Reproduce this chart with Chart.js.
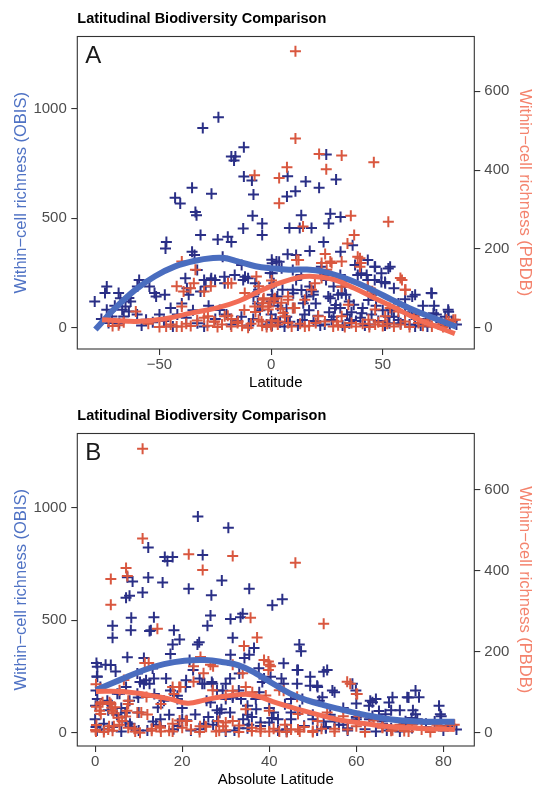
<!DOCTYPE html>
<html>
<head>
<meta charset="utf-8">
<script src="https://cdn.jsdelivr.net/npm/chart.js@4.4.0/dist/chart.umd.min.js"></script>
<style>
  html, body { margin: 0; padding: 0; background: #fff; overflow: hidden; }
  .panel { position: relative; width: 535px; height: 397px; }
</style>
</head>
<body>
<div class="panel"><canvas id="panel-a" width="535" height="397"></canvas></div>
<div class="panel"><canvas id="panel-b" width="535" height="397"></canvas></div>
<script>
const FONT = '"Liberation Sans", Arial, Helvetica, sans-serif';
const TITLE = 'Latitudinal Biodiversity Comparison';

// OBIS grid cells: [latitude, within-cell richness]
const obisCells = [
    [-23.6, 962], [-30.6, 912], [-12.2, 824], [-17.8, 782], [-16.0, 782], [-16.6, 764], [24.7, 791],
    [-12.2, 691], [-8.6, 673], [7.4, 692], [15.5, 668], [29.1, 677], [-35.4, 640], [-26.7, 612],
    [-7.9, 609], [10.9, 624], [21.5, 640], [7.1, 600], [-43.0, 594], [-40.7, 567], [-33.9, 529],
    [-33.4, 514], [-8.3, 511], [-4.0, 476], [-4.0, 423], [-12.5, 453], [13.5, 514], [8.2, 456],
    [12.8, 456], [18.1, 456], [26.5, 521], [31.1, 506], [25.8, 476], [-31.6, 423], [-23.9, 403],
    [-19.4, 415], [-17.8, 392], [-46.9, 392], [-47.3, 362], [-35.4, 347], [-34.3, 332], [-21.7, 324],
    [23.5, 392], [31.1, 347], [36.5, 377], [17.3, 350], [11.2, 332], [7.4, 336], [3.6, 301], [0.5, 294],
    [43.3, 309], [46.4, 279], [52.5, 271], [49.4, 249], [40.3, 249], [38.8, 241], [43.3, 218], [46.4, 218],
    [63.2, 142], [71.7, 158], [49.4, 209], [51.0, 209], [79.3, 82], [83.0, 14], [-79.0, 120], [-73.6, 188],
    [-74.4, 158], [-68.3, 158], [-67.5, 135], [-63.7, 136], [-62.9, 120], [-65.2, 97], [-59.1, 218],
    [-59.9, 188], [-54.5, 188], [-52.2, 158], [-47.6, 150], [-51.5, 142], [-73.6, 82], [-71.3, 51],
    [-72.8, 21], [-66.7, 82], [-63.7, 74], [-66.0, 51], [-56.0, 36], [-38.4, 226], [-37.7, 180],
    [-36.9, 150], [-33.1, 264], [-30.0, 218], [-27.0, 218], [-31.6, 165], [-29.3, 188], [-25.1, 218],
    [-20.9, 233], [-16.3, 241], [-13.2, 286], [-11.7, 233], [-12.5, 218], [-7.1, 203], [-5.6, 173],
    [-7.9, 142], [0.5, 249], [1.2, 203], [0.5, 150], [5.1, 173], [2.8, 142], [9.7, 264], [13.5, 241],
    [11.2, 218], [9.7, 173], [17.3, 188], [18.9, 165], [15.8, 142], [22.5, 279], [24.0, 241], [24.6, 218],
    [28.0, 188], [30.0, 150], [26.5, 135], [29.0, 104], [31.0, 241], [33.0, 188], [33.5, 150], [37.0, 105],
    [36.0, 70], [31.0, 90], [-33, 20], [-30, 5], [-25, 40], [-20, 60], [-15, 30], [-10, 10], [-5, 80],
    [-2, 15], [2, 40], [4, 25], [7, 50], [12, 10], [15, 60], [19, 30], [22, 10], [26, 70], [35, 20],
    [40, 45], [42, 10], [45, 60], [48, 30], [50, 80], [53, 20], [55, 50], [57, 110], [60, 70], [62, 15],
    [66, 40], [68, 100], [70, 5], [74, 60], [76, 25], [80, 10], [45, 150], [55, 180], [60, 130], [35, 120],
    [20, 110], [-40, 110], [-45, 90], [-50, 60], [-60, 60], [-70, 100], [-76, 40], [-68, 20], [-48, 30],
    [-42, 60], [-10.3, 226], [0.2, 188], [2.4, 302], [4.7, 272], [9.9, 157], [13.6, 172], [14.4, 112],
    [6.9, 89], [8.4, 27], [18.9, 150], [25.6, 142], [28.6, 89], [27.1, 35], [-13.3, 50], [-23, 81],
    [-26.8, 226], [-20.8, 203], [37.6, 287], [46.6, 279], [53.3, 279], [42.8, 241], [51.1, 203],
    [64.5, 150], [72, 157], [79.5, 73], [72.7, 66], [43.6, 127], [40.6, 66], [52.5, 50], [57, 35],
    [64.5, 5], [35.3, 35], [31.6, 157], [-58, 10], [-53, 25], [-44, 5], [-38, 45], [-35, 80], [-28, 100],
    [-18, 15], [-8, 40], [-6, 110], [0, 60], [3, 100], [6, 5], [10, 90], [14, 35], [17, 80], [21, 55],
    [24, 15], [28, 50], [32, 10], [34, 60], [38, 30], [41, 90], [44, 15], [47, 100], [51, 10], [54, 80],
    [58, 20], [63, 60], [67, 10], [71, 40], [73, 100], [78, 50], [81, 30], [0.3, 310], [-0.4, 250],
    [0.1, 120], [-0.2, 25], [0.4, 10]
];

// PBDB grid cells: [latitude, within-cell richness]
const pbdbCells = [
    [10.9, 702], [10.9, 480], [21.5, 441], [31.6, 437], [46.0, 420], [7.1, 407], [24.7, 402], [-7.4, 387],
    [3.6, 380], [3.6, 316], [14.3, 257], [35.7, 284], [52.5, 269], [-40.0, 168], [34.2, 214], [37.2, 235],
    [38.8, 180], [40.3, 164], [24.2, 187], [26.5, 168], [12.3, 172], [57.9, 126], [60.2, 96], [43.3, 104],
    [46.4, 89], [78.5, 20], [81.6, 20], [-72.8, 20], [-68.3, 6], [-60.6, 41], [-42.3, 105], [-39.2, 92],
    [-40.0, 54], [-33.9, 147], [-34.6, 113], [-36.1, 100], [-27.0, 105], [-30.0, 92], [-17.8, 113],
    [-47, 3], [-42.3, 3], [-40, 3], [-45, 8], [-33.1, 18], [-30, 25], [-25.5, 15], [-28.5, 5], [-19.4, 30],
    [-17.8, 22], [-15, 12], [-12, 45], [-13, 5], [-7, 40], [-5.6, 20], [-4, 5], [-5.6, 105], [-3.3, 75],
    [-4, 54], [-1, 54], [1.2, 71], [4.6, 63], [7.6, 71], [5.4, 37], [9.7, 50], [7.6, 12], [-19.3, 113],
    [-6.6, 130], [-11.8, 88], [-7.3, 54], [-3.6, 71], [1.7, 75], [-1.3, 46], [7.6, 79], [3.2, 16],
    [6.2, 29], [10.6, 50], [15.1, 71], [18.1, 96], [19.6, 113], [22.6, 126], [24.9, 147], [27.1, 164],
    [22.6, 164], [11.4, 172], [21.1, 29], [24.1, 16], [27.8, 3], [15.1, 3], [9.2, 3], [0.2, 3], [-4.3, 16],
    [-10.3, 0], [-14.8, 16], [-20.8, 29], [-25.3, 16], [-28.3, 29], [-17.8, 3], [31.6, 168], [39.8, 176],
    [39.8, 155], [31.6, 104], [58.6, 121], [60, 96], [31.6, 29], [34.6, 58], [43.6, 20], [46.6, 8],
    [51.1, 29], [53.3, 50], [57, 41], [60, 16], [66, 12], [72, 3], [79.5, 16], [82.5, 20], [46.6, 46],
    [29.4, 16], [-50, 2], [-38, 10], [-36, 4], [-22, 8], [-24, 2], [-9, 10], [-2, 2], [3, 8], [13, 10],
    [17, 5], [20, 12], [30, 6], [33, 2], [36, 12], [38, 3], [41, 10], [44, 2], [48, 14], [50, 4], [52, 10],
    [55, 3], [58, 8], [62, 2], [64, 30], [68, 5], [70, 20], [75, 8], [77, 2], [-66, 14], [-71, 4],
    [-55, 10], [-3.8, 62], [4.2, 48], [-0.3, 64], [0.3, 19], [-0.1, 7], [0.2, 120]
];

// loess trends against signed latitude
const obisTrendLat = [
    [-78.7, -8], [-70, 88], [-61, 172], [-52, 235], [-43, 280], [-34, 306], [-26, 318], [-21, 318],
    [-15, 303], [-7, 281], [0.6, 271], [8, 265], [16, 266], [23.5, 256], [31, 233], [38.8, 203],
    [46.4, 167], [54, 128], [61.7, 90], [69.3, 58], [77, 28], [83, 4]
];
const pbdbTrendLat = [
    [-75.7, 20], [-60.5, 16], [-48.2, 22], [-36, 37], [-23.8, 51], [-14.7, 67], [-5.5, 92], [3.7, 113],
    [12.8, 128], [18.9, 130], [28.1, 122], [37.3, 100], [46.4, 75], [55.6, 50], [64.7, 24], [73.9, 3],
    [82.3, -15]
];

// loess trends against absolute latitude
const obisTrendAbs = [
    [0.2, 190], [5.6, 234], [11.1, 278], [15.8, 305], [20.5, 320], [25.2, 323], [29.1, 315], [33, 300],
    [36.9, 264], [40.8, 219], [44.7, 175], [48.6, 145], [52.5, 123], [56.4, 104], [60.3, 86], [64.2, 71],
    [68.1, 59], [72, 52], [76, 49], [82.6, 49]
];
const pbdbTrendAbs = [
    [0.2, 102], [5.6, 102], [9.5, 98], [13.4, 91], [17.3, 83], [21.3, 73], [25.2, 81], [29.1, 89],
    [34.5, 95], [37.7, 89], [40.8, 77], [44.7, 64], [48.6, 52], [52.5, 41], [56.4, 31], [60.3, 25],
    [64.2, 19], [68.1, 15], [72, 12], [76, 10], [82.6, 8]
];

const latTicks = [-50, 0, 50];
const absLatTicks = [0, 20, 40, 60, 80];
const obisTicks = [0, 500, 1000];
const pbdbTicks = [0, 200, 400, 600];

const toXY = pts => pts.map(p => ({ x: p[0], y: p[1] }));
const absXY = pts => pts.map(p => ({ x: Math.abs(p[0]), y: p[1] }));

// frame, bold heading and panel letter
const panelDecor = {
    id: 'panelDecor',
    afterDraw(chart, args, opts) {
        const { ctx, chartArea: a } = chart;
        ctx.save();
        ctx.strokeStyle = '#333';
        ctx.lineWidth = 1.1;
        ctx.strokeRect(a.left, a.top, a.right - a.left, a.bottom - a.top);
        ctx.fillStyle = '#000';
        ctx.textAlign = 'left';
        ctx.textBaseline = 'alphabetic';
        ctx.font = `bold 14.5px ${FONT}`;
        ctx.fillText(TITLE, a.left, 23);
        ctx.fillStyle = '#1a1a1a';
        ctx.font = `24px ${FONT}`;
        ctx.fillText(opts.label, a.left + 8, a.top + 26);
        ctx.restore();
    }
};

function tickList(values) {
    return scale => { scale.ticks = values.map(v => ({ value: v })); };
}

function axisTicks() {
    return {
        color: '#4d4d4d',
        font: { family: FONT, size: 15 },
        autoSkip: false,
        maxRotation: 0,
        callback: v => String(v).replace('-', '\u2212'),
    };
}

const tickGrid = { drawOnChartArea: false, drawTicks: true, tickLength: 6, color: '#333', lineWidth: 1.1 };

function drawPanel(canvasId, label, xTitle, xTicks, xRange, yRange, y2Range, obisPts, pbdbPts, obisTrend, pbdbTrend) {
    const ctx = document.getElementById(canvasId).getContext('2d');
    return new Chart(ctx, {
        type: 'scatter',
        data: {
            datasets: [
                {
                    label: 'PBDB trend',
                    type: 'line',
                    data: pbdbTrend,
                    yAxisID: 'y2',
                    borderColor: '#f26c55',
                    borderWidth: 5,
                    pointRadius: 0,
                    tension: 0.4,
                    fill: false,
                },
                {
                    label: 'OBIS trend',
                    type: 'line',
                    data: obisTrend,
                    yAxisID: 'y',
                    borderColor: '#4a6dbf',
                    borderWidth: 6,
                    pointRadius: 0,
                    tension: 0.4,
                    fill: false,
                },
                {
                    label: 'PBDB',
                    data: pbdbPts,
                    yAxisID: 'y2',
                    pointStyle: 'cross',
                    pointRadius: 5.5,
                    borderColor: '#d9573f',
                    borderWidth: 2,
                },
                {
                    label: 'OBIS',
                    data: obisPts,
                    yAxisID: 'y',
                    pointStyle: 'cross',
                    pointRadius: 5.5,
                    borderColor: '#2a2f86',
                    borderWidth: 2,
                },
            ],
        },
        options: {
            responsive: false,
            animation: false,
            events: [],
            layout: { padding: { top: 36.5, left: 0, right: 0, bottom: 0 } },
            plugins: {
                legend: { display: false },
                tooltip: { enabled: false },
                panelDecor: { label },
            },
            scales: {
                x: {
                    type: 'linear',
                    min: xRange[0],
                    max: xRange[1],
                    afterBuildTicks: tickList(xTicks),
                    afterFit: s => { s.height = 397 - 349; },
                    grid: tickGrid,
                    border: { display: false },
                    ticks: Object.assign(axisTicks(), { padding: 1 }),
                    title: {
                        display: true,
                        text: xTitle,
                        color: '#000',
                        font: { family: FONT, size: 15 },
                        padding: { top: 0, bottom: 5 },
                    },
                },
                y: {
                    type: 'linear',
                    position: 'left',
                    min: yRange[0],
                    max: yRange[1],
                    afterBuildTicks: tickList(obisTicks),
                    afterFit: s => { s.width = 77.3; },
                    grid: tickGrid,
                    border: { display: false },
                    ticks: Object.assign(axisTicks(), { padding: 4.5 }),
                    title: {
                        display: true,
                        text: 'Within\u2212cell richness (OBIS)',
                        color: '#4f72c4',
                        font: { family: FONT, size: 16.5 },
                        padding: { top: 12, bottom: 0 },
                    },
                },
                y2: {
                    type: 'linear',
                    position: 'right',
                    min: y2Range[0],
                    max: y2Range[1],
                    afterBuildTicks: tickList(pbdbTicks),
                    afterFit: s => { s.width = 535 - 474.3; },
                    grid: tickGrid,
                    border: { display: false },
                    ticks: Object.assign(axisTicks(), { padding: 4 }),
                    title: {
                        display: true,
                        text: 'Within\u2212cell richness (PBDB)',
                        color: '#f4836d',
                        font: { family: FONT, size: 16.5 },
                        padding: { top: 1, bottom: 0 },
                    },
                },
            },
        },
        plugins: [panelDecor],
    });
}

drawPanel('panel-a', 'A', 'Latitude', latTicks,
    [-86.8, 91.0], [-97.4, 1330.6], [-54.1, 739.2],
    toXY(obisCells), toXY(pbdbCells), toXY(obisTrendLat), toXY(pbdbTrendLat));

drawPanel('panel-b', 'B', 'Absolute Latitude', absLatTicks,
    [-4.1, 87.1], [-59, 1331], [-32.8, 739.4],
    absXY(obisCells), absXY(pbdbCells), toXY(obisTrendAbs), toXY(pbdbTrendAbs));
</script>
</body>
</html>
